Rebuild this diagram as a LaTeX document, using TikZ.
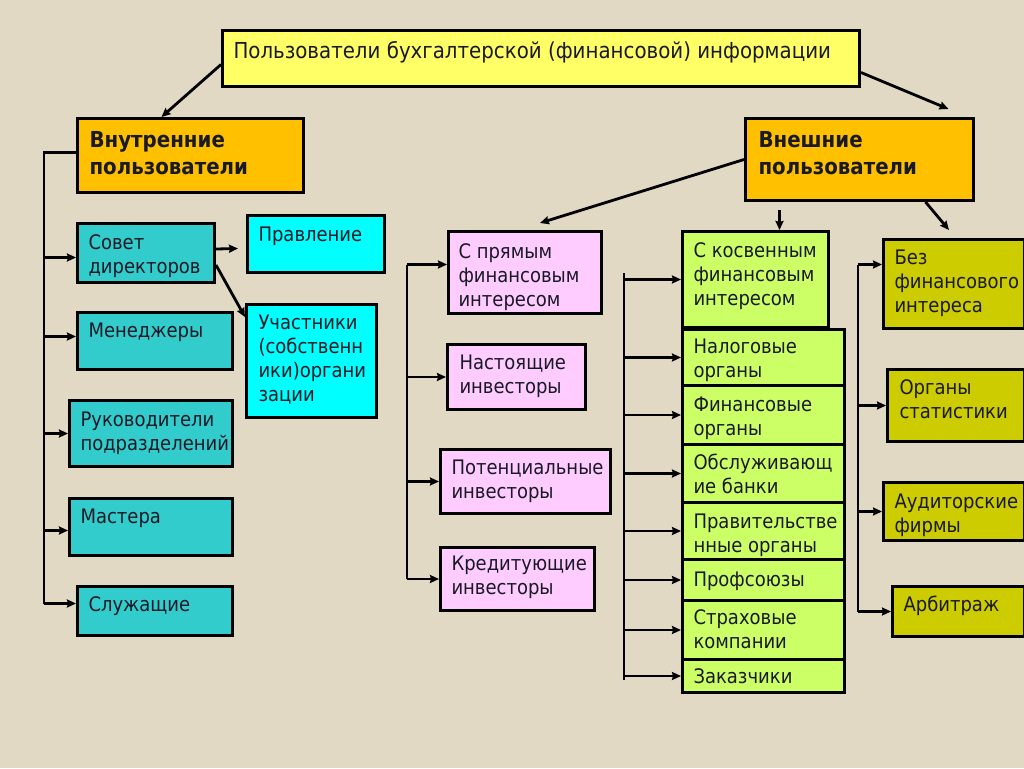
\documentclass[tikz,border=0pt]{standalone}
\usepackage{fontspec}
\setmainfont{DejaVu Sans}[FakeStretch=0.9]
\usetikzlibrary{arrows.meta}
\definecolor{bg}{HTML}{E1D9C3}
\definecolor{ttlfill}{HTML}{FFFF66}
\definecolor{orng}{HTML}{FFC000}
\definecolor{teal1}{HTML}{33CCCC}
\definecolor{cyan1}{HTML}{00FFFF}
\definecolor{pink1}{HTML}{FFCCFF}
\definecolor{green1}{HTML}{CCFF66}
\definecolor{olive1}{HTML}{CCCC00}
\definecolor{txt}{HTML}{1A1A26}
\hbadness=10000 \hfuzz=200pt \vfuzz=200pt \vbadness=10000
\newcommand\bxx[9]{\node[boxst, fill=#6] (#1) at (#2,#3) {\parbox[c][#5pt][t]{#4pt}{\raggedright\hyphenpenalty=10000\leftskip=#7pt\relax\rule{0pt}{#8pt}#9}};}
\begin{document}
\begin{tikzpicture}[x=1pt,y=-1pt,
  boxst/.style={draw=black, line width=3pt, inner sep=0pt, anchor=north west, text=txt,
    font=\fontsize{20}{24}\selectfont},
  ln/.style={draw=black, line width=2.8pt},
  arr/.style={ln, -{Stealth[length=9pt,width=8pt,inset=1pt]}}]
\fill[bg] (0,0) rectangle (1024,768);
\useasboundingbox (0,0) rectangle (1024,768);
% top level
\bxx{title}{221}{29}{637}{56}{ttlfill}{11}{28}{\fontsize{22}{27}\selectfont Пользователи бухгалтерской (финансовой) информации}
\bxx{int}{76}{117}{226}{74}{orng}{12}{29}{\fontsize{22}{27}\selectfont\bfseries Внутренние\\пользователи}
\bxx{ext}{744}{117}{228}{82}{orng}{13}{29}{\fontsize{22}{27}\selectfont\bfseries Внешние\\пользователи}
% internal users
\bxx{sovet}{76}{222}{137}{59}{teal1}{11}{26}{Совет\\директоров}
\bxx{prav}{246}{214}{137}{57}{cyan1}{11}{26}{Правление}
\bxx{uch}{245}{303}{130}{113}{cyan1}{12}{25}{Участники\\(собственн\\ики)органи\\зации}
\bxx{men}{76}{311}{155}{57}{teal1}{11}{25}{Менеджеры}
\bxx{ruk}{68}{399}{163}{66}{teal1}{11}{26}{Руководители\\подразделений}
\bxx{mas}{68}{497}{163}{57}{teal1}{11}{25}{Мастера}
\bxx{slu}{76}{585}{155}{49}{teal1}{11}{25}{Служащие}
% direct interest
\bxx{pr}{447}{230}{153}{82}{pink1}{10}{27}{С прямым\\финансовым\\интересом}
\bxx{nas}{446}{343}{138}{65}{pink1}{12}{25}{Настоящие\\инвесторы}
\bxx{pot}{439}{448}{170}{64}{pink1}{11}{25}{Потенциальные\\инвесторы}
\bxx{kre}{439}{546}{154}{63}{pink1}{11}{23}{Кредитующие\\инвесторы}
% indirect interest
\bxx{kos}{681}{230}{146}{96}{green1}{11}{26}{С косвенным\\финансовым\\интересом}
\bxx{nal}{681}{328}{162}{56}{green1}{11}{24}{Налоговые\\органы}
\bxx{fin}{681}{384}{162}{59}{green1}{11}{26}{Финансовые\\органы}
\bxx{obs}{681}{443}{162}{58}{green1}{11}{25}{Обслуживающ\\ие банки}
\bxx{pra}{681}{501}{162}{57}{green1}{11}{26}{Правительстве\\нные органы}
\bxx{prof}{681}{558}{162}{41}{green1}{11}{27}{Профсоюзы}
\bxx{str}{681}{599}{162}{59}{green1}{11}{24}{Страховые\\компании}
\bxx{zak}{681}{658}{162}{33}{green1}{11}{24}{Заказчики}
% no interest
\bxx{bez}{882}{238}{141}{89}{olive1}{11}{25}{Без\\финансового\\интереса}
\bxx{org}{886}{368}{137}{72}{olive1}{12}{25}{Органы\\статистики}
\bxx{aud}{882}{481}{141}{58}{olive1}{11}{26}{Аудиторские\\фирмы}
\bxx{arb}{891}{585}{132}{50}{olive1}{11}{25}{Арбитраж}
% top arrows
\draw[arr] ([yshift=-6pt]title.west) -- ([xshift=-29pt]int.north);
\draw[arr] ([yshift=-14pt]title.east) -- ([shift={(89pt,8pt)}]ext.north);
\draw[arr] (ext.west) -- ([shift={(15pt,7pt)}]pr.north);
\draw[arr] ([shift={(-80pt,-8pt)}]ext.south) -- ([xshift=24pt]kos.north);
\draw[arr] ([xshift=66pt]ext.south) -- ([shift={(-5pt,8pt)}]bez.north);
% sovet arrows
\draw[arr] ([yshift=4pt]sovet.east) -- ([shift={(-8pt,-4.5pt)}]prav.west);
\draw[arr] ([yshift=-12pt]sovet.east) -- ([yshift=-14pt]uch.north west);
% left bus
\coordinate (lx) at (44,0);
\draw[ln] ([yshift=3pt]int.west) -| ([yshift=7.5pt]lx |- slu.west);
\draw[arr] ([yshift=-4.5pt]lx |- sovet.west) -- ([yshift=-4.5pt]sovet.west);
\draw[arr] ([yshift=4.5pt]lx |- men.west) -- ([yshift=4.5pt]men.west);
\draw[arr] (lx |- ruk.west) -- (ruk.west);
\draw[arr] ([yshift=-3.5pt]lx |- mas.west) -- ([yshift=-3.5pt]mas.west);
\draw[arr] ([yshift=7.5pt]lx |- slu.west) -- ([yshift=7.5pt]slu.west);
% middle bus
\coordinate (mx) at (407,0);
\draw[ln] ([yshift=8pt]mx |- pr.west) -- (mx |- kre.west);
\draw[arr] ([yshift=8pt]mx |- pr.west) -- ([yshift=8pt]pr.west);
\draw[arr] (mx |- nas.west) -- (nas.west);
\draw[arr] (mx |- pot.west) -- (pot.west);
\draw[arr] (mx |- kre.west) -- (kre.west);
% green bus
\coordinate (gt) at (624,273);
\coordinate (gb) at (624,680);
\draw[ln] (gt) -- (gb);
\foreach \n in {kos,nal,fin,obs,pra,prof,str,zak}{
  \draw[arr] (gt |- \n.west) -- (\n.west);
}
% right bus
\coordinate (rx) at (858,0);
\draw[ln] ([yshift=19.5pt]rx |- bez.west) -- (rx |- arb.west);
\draw[arr] ([yshift=19.5pt]rx |- bez.west) -- ([yshift=19.5pt]bez.west);
\draw[arr] (rx |- org.west) -- (org.west);
\draw[arr] (rx |- aud.west) -- (aud.west);
\draw[arr] (rx |- arb.west) -- (arb.west);
\end{tikzpicture}
\end{document}
